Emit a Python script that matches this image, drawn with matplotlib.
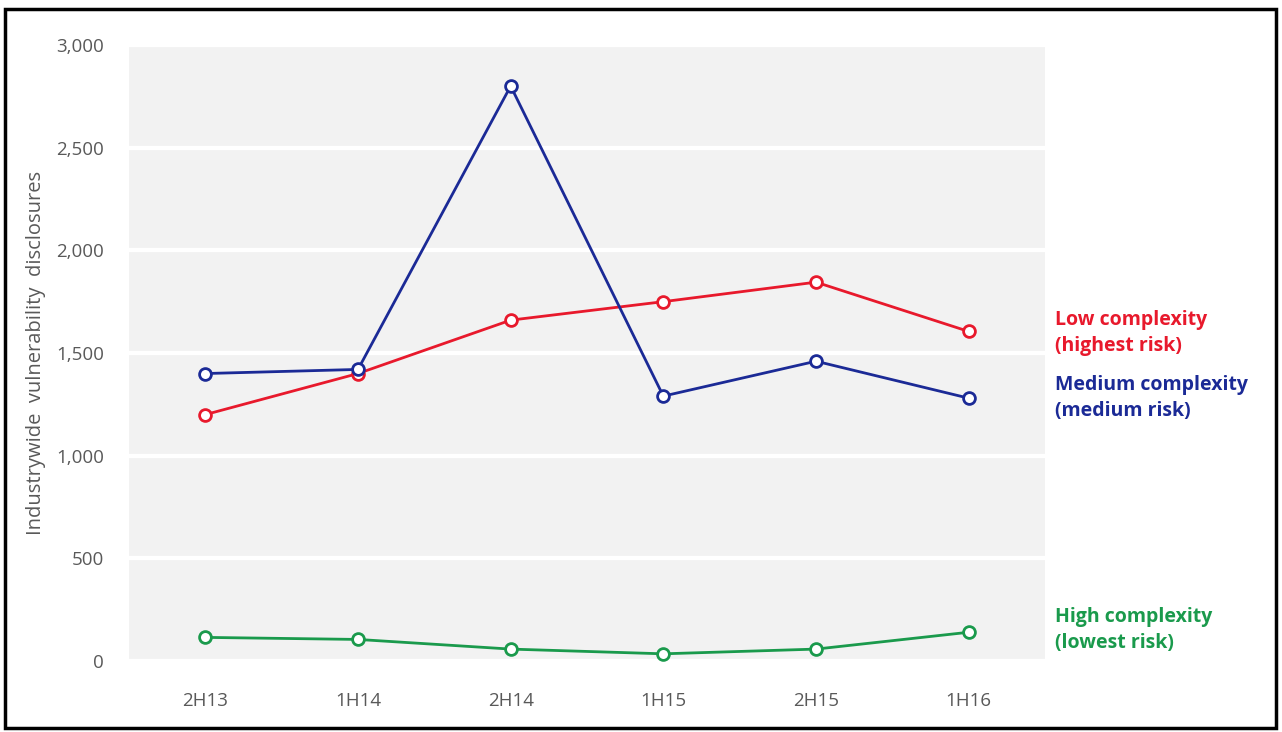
import numpy as np
import matplotlib.pyplot as plt
from matplotlib.patches import Rectangle
from matplotlib.ticker import FuncFormatter

plt.rcParams['font.family'] = ['Open Sans', 'DejaVu Sans']

periods = ['2H13', '1H14', '2H14', '1H15', '2H15', '1H16']
low_cx = [1200, 1400, 1660, 1750, 1845, 1605]
medium_cx = [1400, 1420, 2800, 1290, 1460, 1280]
high_cx = [115, 105, 58, 35, 58, 140]

series = [
    (low_cx, '#e8192c', 'Low complexity\n(highest risk)'),
    (medium_cx, '#1b2a96', 'Medium complexity\n(medium risk)'),
    (high_cx, '#1a9a4c', 'High complexity\n(lowest risk)'),
]
label_y = [1597, 1280, 150]

fig = plt.figure(figsize=(12.82, 7.32), dpi=100)
ax = fig.add_axes([129 / 1282, 1 - 661 / 732, (1045 - 129) / 1282, (661 - 45) / 732])
ax.set_facecolor('#f2f2f2')

x = np.arange(len(periods))
for (vals, col, name), ly in zip(series, label_y):
    ax.plot(x, vals, color=col, lw=2.0, marker='o', ms=8.5, mfc='white',
            mec=col, mew=2.0, zorder=3)
    ax.text(5.5 + 10 / 153, ly, name, color=col, fontsize=14, fontweight='bold',
            va='center', ha='left', linespacing=1.4, clip_on=False)

ax.set_xlim(-0.5, 5.5)
ax.set_ylim(0, 2990)
ax.set_xticks(x)
ax.set_xticklabels(periods)
ax.set_yticks(np.arange(0, 3001, 500))
ax.yaxis.set_major_formatter(FuncFormatter(lambda v, p: f'{int(v):,}'))
ax.grid(axis='y', color='white', lw=3)
ax.set_axisbelow(True)
for s in ax.spines.values():
    s.set_visible(False)
ax.tick_params(length=0, labelsize=13.5, labelcolor='#595959')
ax.tick_params(axis='y', pad=18)
ax.tick_params(axis='x', pad=22)
ax.set_ylabel('Industrywide  vulnerability  disclosures', fontsize=14.5,
              color='#595959', labelpad=7)

fig.patches.append(Rectangle((5 / 1282, 1 - 728 / 732), 1271 / 1282, 719 / 732,
                             transform=fig.transFigure, fill=False,
                             ec='black', lw=2.5))

fig.savefig('out.png', dpi=100)
